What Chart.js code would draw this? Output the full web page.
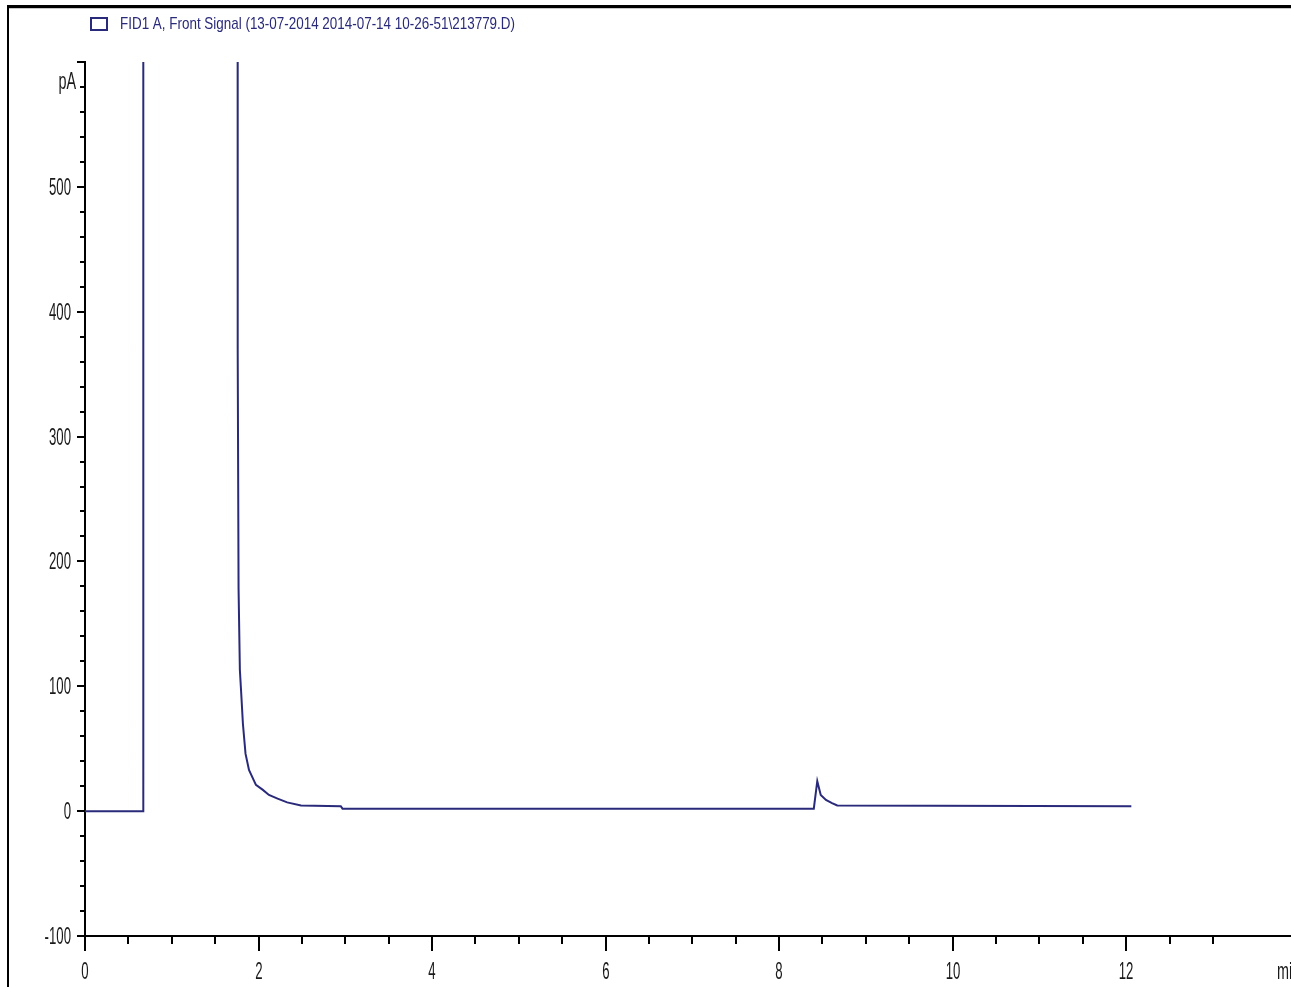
<!DOCTYPE html>
<html>
<head>
<meta charset="utf-8">
<title>FID1 A, Front Signal</title>
<script src="https://cdn.jsdelivr.net/npm/chart.js@4.4.1/dist/chart.umd.min.js"></script>
<style>
  html, body { margin: 0; padding: 0; background: #fff; }
  #wrap { position: relative; width: 1291px; height: 987px; }
</style>
</head>
<body>
<div id="wrap"><canvas id="chrom"></canvas></div>
<script>
// retention time (min) and detector signal (pA)
const times  = [0, 0.67, 0.672, 1.757, 1.760, 1.770, 1.785, 1.80, 1.82, 1.85, 1.89, 1.97, 2.05, 2.12, 2.22, 2.33, 2.49, 2.948, 2.968, 8.40, 8.44, 8.48, 8.54, 8.61, 8.67, 12.06];
const signal = [0, 0, 1500, 1500, 370, 178, 113, 95, 70, 46, 33, 21, 17, 13, 10, 7, 4.5, 4, 2, 2, 24, 13, 9, 6.5, 4.5, 4];

const traceLabel = 'FID1 A, Front Signal (13-07-2014 2014-07-14 10-26-51\\213779.D)';
const xUnit = 'min';
const yUnit = 'pA';
const xRange = [0, 13.9];
const yRange = [-100, 600];

const traceColor = '#2a2a7a';

// squeezed text, like the narrow instrument font
function squeezed(ctx, text, x, y, align, sx) {
  ctx.save();
  ctx.translate(x, y);
  ctx.scale(sx, 1);
  ctx.textAlign = align;
  ctx.fillText(text, 0, 0);
  ctx.restore();
}

const chromAxes = {
  id: 'chromAxes',
  beforeDraw(chart) {
    const ctx = chart.ctx;
    ctx.save();
    ctx.fillStyle = '#fff';
    ctx.fillRect(0, 0, chart.width, chart.height);
    // frame
    ctx.fillStyle = '#000';
    ctx.fillRect(7, 5, chart.width - 7, 3);
    ctx.fillRect(7, 5, 2, chart.height - 5);
    ctx.fillStyle = '#c8c8c8';
    ctx.fillRect(9, 8, chart.width - 9, 1);
    ctx.restore();
  },
  afterDraw(chart) {
    const { ctx, scales: { x, y } } = chart;
    const ax = x.left, ay = y.bottom;
    ctx.save();
    ctx.strokeStyle = '#000';
    ctx.lineWidth = 2;
    ctx.fillStyle = '#1a1a1a';
    ctx.font = '24px "Liberation Sans", Arial, sans-serif';
    ctx.textBaseline = 'middle';

    // y ticks every 20, labels every 100
    y.ticks.forEach(t => {
      const v = t.value;
      if (v % 20 !== 0) return;
      const py = Math.round(y.getPixelForValue(v));
      const major = v % 100 === 0;
      ctx.beginPath();
      ctx.moveTo(ax - (major ? 8 : 5), py);
      ctx.lineTo(ax, py);
      ctx.stroke();
      if (major && v < yRange[1]) squeezed(ctx, String(v), ax - 14, py + 1, 'right', 0.55);
      if (v === 580) squeezed(ctx, yUnit, ax - 9, py - 5, 'right', 0.6);
    });

    // x ticks every 0.5, labels every 2
    x.ticks.forEach(t => {
      const v = t.value;
      if (Math.abs(v * 2 - Math.round(v * 2)) > 1e-6) return;
      const px = Math.round(x.getPixelForValue(v));
      const major = Math.abs(v / 2 - Math.round(v / 2)) < 1e-6;
      ctx.beginPath();
      ctx.moveTo(px, ay);
      ctx.lineTo(px, ay + (major ? 15 : 8));
      ctx.stroke();
      if (major) squeezed(ctx, String(v), px, ay + 36, 'center', 0.55);
    });
    squeezed(ctx, xUnit, chart.width - 14, ay + 36, 'left', 0.6);

    // legend
    const ds = chart.data.datasets[0];
    ctx.strokeStyle = ds.borderColor;
    ctx.lineWidth = 2;
    ctx.strokeRect(91, 18, 16, 12);
    ctx.fillStyle = ds.borderColor;
    ctx.font = '17px "Liberation Sans", Arial, sans-serif';
    const w = ctx.measureText(ds.label).width;
    squeezed(ctx, ds.label, 120, 24, 'left', 395 / w);
    ctx.restore();
  }
};

const points = times.map((t, i) => ({ x: t, y: signal[i] }));

new Chart(document.getElementById('chrom'), {
  type: 'line',
  data: {
    datasets: [{
      label: traceLabel,
      data: points,
      borderColor: traceColor,
      borderWidth: 2,
      pointRadius: 0,
      tension: 0,
      fill: false
    }]
  },
  options: {
    responsive: true,
    maintainAspectRatio: false,
    animation: false,
    events: [],
    layout: { padding: { left: 77, top: 62, right: 0, bottom: 43 } },
    plugins: { legend: { display: false }, tooltip: { enabled: false } },
    scales: {
      x: {
        type: 'linear',
        min: xRange[0], max: xRange[1],
        ticks: { display: false, stepSize: 0.5 },
        grid: { display: false },
        border: { display: true, color: '#000', width: 2 }
      },
      y: {
        min: yRange[0], max: yRange[1],
        ticks: { display: false, stepSize: 20 },
        grid: { display: false },
        border: { display: true, color: '#000', width: 2 }
      }
    }
  },
  plugins: [chromAxes]
});
</script>
</body>
</html>
